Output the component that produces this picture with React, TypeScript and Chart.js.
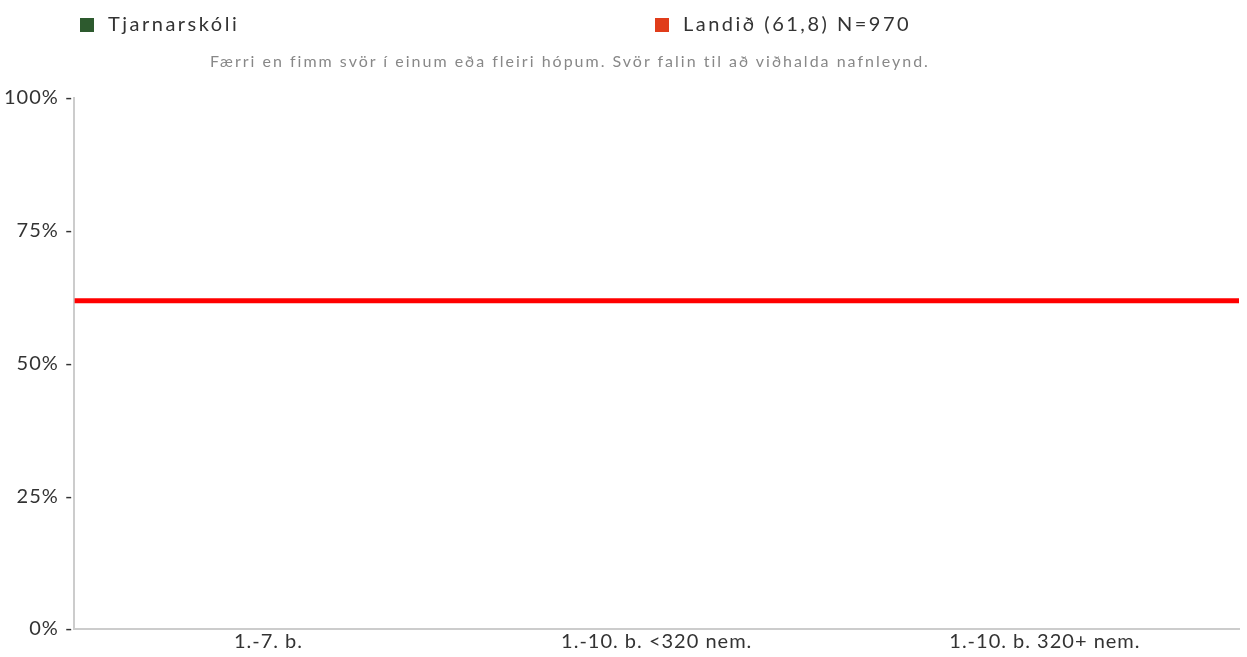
import React, { useEffect, useRef } from "react";
import { Chart, registerables } from "chart.js";

Chart.register(...registerables);

const categories = ["1.-7. b.", "1.-10. b. <320 nem.", "1.-10. b. 320+ nem."];
const schoolName = "Tjarnarskóli";
const schoolValues: (number | null)[] = [null, null, null];
const countryName = "Landið (61,8) N=970";
const countryValue = 61.8;
const yTicks = [0, 25, 50, 75, 100];
const note = "Færri en fimm svör í einum eða fleiri hópum. Svör falin til að viðhalda nafnleynd.";

const FONT = "Lato, 'Open Sans', sans-serif";

const spacingPlugin = {
  id: "letterSpacing",
  beforeLayout(chart: any) {
    chart.ctx.letterSpacing = "1px";
  },
  beforeDraw(chart: any) {
    chart.ctx.letterSpacing = "1px";
  },
};

export default function App() {
  const ref = useRef<HTMLCanvasElement | null>(null);

  useEffect(() => {
    document.body.style.margin = "0";
    const ctx = ref.current!.getContext("2d")!;
    const chart = new Chart(ctx, {
      type: "bar",
      data: {
        labels: categories,
        datasets: [
          {
            type: "bar",
            label: schoolName,
            data: schoolValues,
            backgroundColor: "#2d5a2e",
            xAxisID: "x",
          },
          {
            type: "line",
            label: countryName,
            data: [
              { x: 0, y: countryValue },
              { x: 1, y: countryValue },
            ] as any,
            borderColor: "#ff0000",
            borderWidth: 5,
            pointRadius: 0,
            xAxisID: "x2",
          } as any,
        ],
      },
      plugins: [spacingPlugin],
      options: {
        animation: false,
        responsive: false,
        layout: { padding: { top: 98, right: 8, left: 3, bottom: 2 } },
        plugins: { legend: { display: false }, tooltip: { enabled: false } },
        scales: {
          x: {
            type: "category",
            grid: { display: false, drawTicks: false },
            border: { color: "#cccccc", width: 2 },
            ticks: { color: "#333", font: { family: FONT, size: 20 }, padding: 1 },
          },
          x2: {
            type: "linear",
            min: 0,
            max: 1,
            offset: false,
            display: false,
          },
          y: {
            min: 0,
            max: 100,
            afterBuildTicks: (axis: any) => {
              axis.ticks = yTicks.map((v) => ({ value: v }));
            },
            grid: { display: false, drawTicks: false },
            border: { color: "#cccccc", width: 2 },
            ticks: {
              color: "#333",
              font: { family: FONT, size: 20 },
              padding: 1,
              callback: (v: any) => `${v}% -`,
            },
          },
        },
      },
    });
    return () => chart.destroy();
  }, []);

  const legendText: React.CSSProperties = {
    position: "absolute",
    top: 11,
    fontFamily: FONT,
    fontSize: 20,
    color: "#333",
    letterSpacing: "2.5px",
    lineHeight: "24px",
    whiteSpace: "nowrap",
  };
  const sq = (c: string): React.CSSProperties => ({
    display: "inline-block",
    width: 14,
    height: 14,
    background: c,
    marginRight: 14,
    verticalAlign: "-1px",
  });

  return (
    <div style={{ position: "relative", width: 1247, height: 657, background: "#fff", overflow: "hidden" }}>
      <canvas ref={ref} width={1247} height={657} style={{ position: "absolute", left: 0, top: 0 }} />
      <div style={{ ...legendText, left: 80 }}>
        <span style={sq("#2d5a2e")} />
        {schoolName}
      </div>
      <div style={{ ...legendText, left: 655 }}>
        <span style={sq("#e03c1a")} />
        {countryName}
      </div>
      <div
        style={{
          position: "absolute",
          top: 51,
          left: 180,
          width: 780,
          textAlign: "center",
          fontFamily: FONT,
          fontSize: 16,
          letterSpacing: "2px",
          color: "#888",
          whiteSpace: "nowrap",
        }}
      >
        {note}
      </div>
    </div>
  );
}
